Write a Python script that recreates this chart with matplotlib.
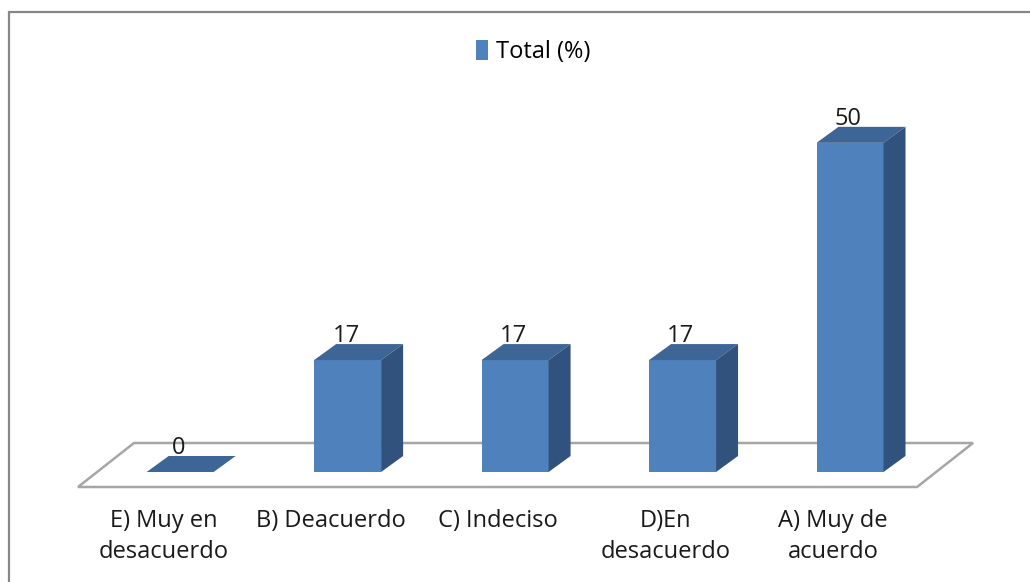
import numpy as np
from matplotlib import pyplot as plt
from matplotlib.patches import Polygon, Rectangle, Patch

plt.rcParams['font.family'] = ['Open Sans', 'DejaVu Sans']

categories = ['E) Muy en\ndesacuerdo', 'B) Deacuerdo', 'C) Indeciso',
              'D)En\ndesacuerdo', 'A) Muy de\nacuerdo']
values = [0, 17, 17, 17, 50]
series_name = 'Total (%)'

front_col = '#4f81bd'
top_col = '#3d6596'
side_col = '#31527c'
floor_col = '#a6a6a6'
text_col = '#1a1a1a'


def px_to_data(ax, dx, dy):
    inv = ax.transData.inverted()
    x0, y0 = inv.transform((0, 0))
    x1, y1 = inv.transform((dx, dy))
    return x1 - x0, y1 - y0


def main():
    fig = plt.figure(figsize=(10.3, 5.82), dpi=100)
    # grey frame round the chart
    fig.patches.append(Rectangle((9 / 1030, -0.05), 1.1, 1.05 - 12 / 582,
                                 transform=fig.transFigure, fill=False,
                                 edgecolor='#868686', lw=1.6))

    ax = fig.add_axes([78 / 1030, 95 / 582, 839 / 1030, 410 / 582])
    x = np.arange(len(values))
    ax.set_xlim(-0.61, 4.40)
    ax.set_ylim(-2.28, 60)

    # floor
    fdx, fdy = px_to_data(ax, 56, 44)
    xl, xr = ax.get_xlim()
    yb = ax.get_ylim()[0]
    floor = Polygon([(xl, yb), (xr, yb), (xr + fdx, yb + fdy), (xl + fdx, yb + fdy)],
                    closed=True, facecolor='white', edgecolor=floor_col, lw=1.8,
                    clip_on=False, zorder=1)
    ax.add_patch(floor)

    # bars with fake depth
    w = 0.4
    dx, dy = px_to_data(ax, 22, 16)
    ax.bar(x, values, width=w, color=front_col, zorder=3)
    for xi, v in zip(x, values):
        l, r = xi - w / 2, xi + w / 2
        top = Polygon([(l, v), (r, v), (r + dx, v + dy), (l + dx, v + dy)],
                      closed=True, facecolor=top_col, edgecolor='none', zorder=3)
        ax.add_patch(top)
        if v > 0:
            side = Polygon([(r, 0), (r + dx, dy), (r + dx, v + dy), (r, v)],
                           closed=True, facecolor=side_col, edgecolor='none', zorder=3)
            ax.add_patch(side)
        ax.text(xi - 0.01, v + dy - 0.6, str(v), ha='center', va='bottom',
                fontsize=17, color=text_col, zorder=4)

    # category labels
    ax.set_xticks(x - 0.1)
    ax.set_xticklabels(categories, fontsize=17, linespacing=1.35, color=text_col)
    ax.tick_params(axis='x', length=0, pad=16)
    ax.set_yticks([])
    for s in ax.spines.values():
        s.set_visible(False)
    ax.patch.set_visible(False)

    fig.legend(handles=[Patch(facecolor=front_col, edgecolor='none', label=series_name)],
               loc='center', bbox_to_anchor=(533 / 1030, 1 - 52 / 582), frameon=False,
               fontsize=17, handlelength=0.5, handleheight=0.9, handletextpad=0.35)

    fig.savefig('out.png', dpi=100)


if __name__ == '__main__':
    main()
